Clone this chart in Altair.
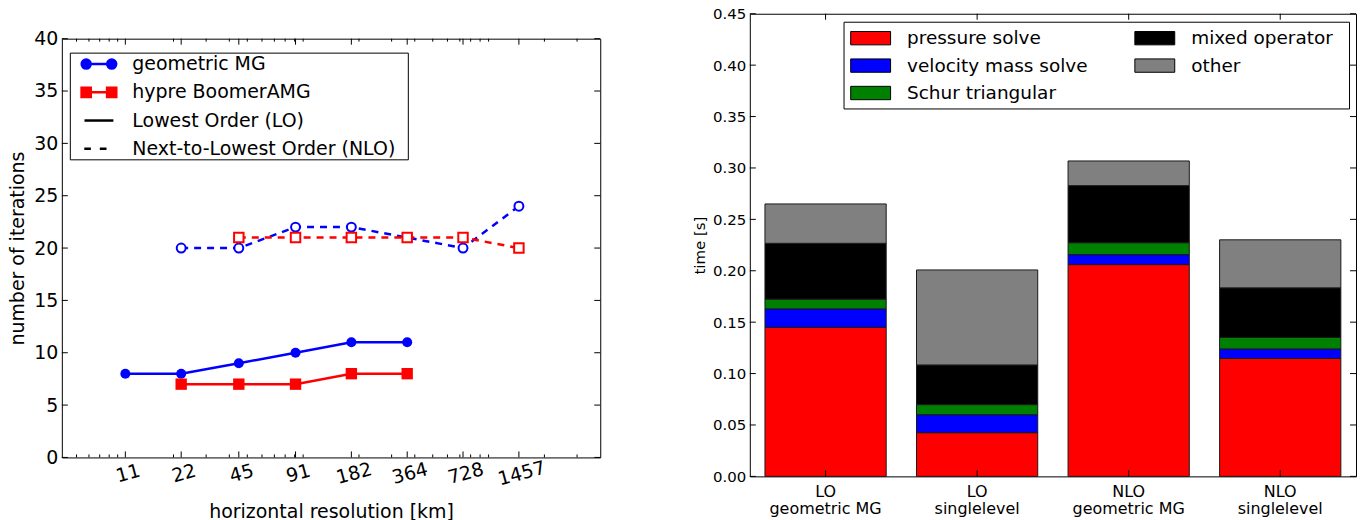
import json
import altair as alt
import pandas as pd

# ---------------- left panel data ----------------
res_geo_lo = [11, 22, 45, 91, 182, 364]
its_geo_lo = [8, 8, 9, 10, 11, 11]
res_amg_lo = [22, 45, 91, 182, 364]
its_amg_lo = [7, 7, 7, 8, 8]
res_geo_nlo = [22, 45, 91, 182, 364, 728, 1457]
its_geo_nlo = [20, 20, 22, 22, 21, 20, 24]
res_amg_nlo = [45, 91, 182, 364, 728, 1457]
its_amg_nlo = [21, 21, 21, 21, 21, 20]

res_ticks = [11, 22, 45, 91, 182, 364, 728, 1457]
res_minor = [6, 7, 8, 9, 10, 20, 30, 40, 50, 60, 70, 80, 90, 100, 200, 300,
             400, 500, 600, 700, 800, 900, 1000, 2000, 3000]
its_ticks = [0, 5, 10, 15, 20, 25, 30, 35, 40]
methods = ["geometric MG", "hypre BoomerAMG"]
orders = ["LO", "NLO"]
line_legend = ["geometric MG", "hypre BoomerAMG", "Lowest Order (LO)",
               "Next-to-Lowest Order (NLO)"]

# ---------------- right panel data ----------------
bar_groups = ["LO\ngeometric MG", "LO\nsinglelevel", "NLO\ngeometric MG", "NLO\nsinglelevel"]
components = ["pressure solve", "velocity mass solve", "Schur triangular",
              "mixed operator", "other"]
pressure_solve = [0.145, 0.0425, 0.206, 0.1147]
velocity_mass_solve = [0.018, 0.0175, 0.0097, 0.0093]
schur_triangular = [0.0094, 0.0098, 0.0116, 0.0112]
mixed_operator = [0.0543, 0.0386, 0.0555, 0.0482]
other = [0.0383, 0.0924, 0.024, 0.0467]
time_ticks = [0.0, 0.05, 0.10, 0.15, 0.20, 0.25, 0.30, 0.35, 0.40, 0.45]

FONT = "DejaVu Sans"
BLUE, RED, GREEN, GRAY, BLACK = "#0000ff", "#ff0000", "#008000", "#808080", "#000000"

# ---------------- left panel ----------------
rows = []
for m, o, rs, its in [(methods[0], orders[0], res_geo_lo, its_geo_lo),
                      (methods[1], orders[0], res_amg_lo, its_amg_lo),
                      (methods[0], orders[1], res_geo_nlo, its_geo_nlo),
                      (methods[1], orders[1], res_amg_nlo, its_amg_nlo)]:
    for r, i in zip(rs, its):
        rows.append({"res": r, "its": i, "method": m, "order": o})
df_lines = pd.DataFrame(rows)

W1, H1 = 540, 420
xs = alt.Scale(type="log", domain=[5, 4000])
ys = alt.Scale(domain=[0, 40])
x_axis = alt.Axis(values=res_ticks, format="d", labelAngle=345, labelAlign="center",
                  labelBaseline="top", labelFontSize=19, labelPadding=7,
                  labelOverlap=False, labelFlush=False,
                  title="horizontal resolution [km]", titleFontSize=19, titlePadding=14)
y_axis = alt.Axis(values=its_ticks, labelFontSize=19, labelPadding=4,
                  title="number of iterations", titleFontSize=19, titlePadding=6)


def XL(f):
    return alt.X(f, type="quantitative", scale=xs, axis=x_axis)


def YL(f):
    return alt.Y(f, type="quantitative", scale=ys, axis=y_axis)


base = alt.Chart(df_lines)
layers = []
styles = [
    (methods[0], orders[0], BLUE, False, "circle", 100),
    (methods[1], orders[0], RED, False, "square", 130),
    (methods[0], orders[1], BLUE, True, "circle", 80),
    (methods[1], orders[1], RED, True, "square", 90),
]
for m, o, col, nlo, shp, sz in styles:
    d = base.transform_filter((alt.datum.method == m) & (alt.datum.order == o))
    lkw = dict(color=col, strokeWidth=2.5)
    if nlo:
        lkw["strokeDash"] = [7, 6]
    layers.append(d.mark_line(**lkw).encode(x=XL("res"), y=YL("its")))
    if nlo:
        pkw = dict(shape=shp, filled=True, fill="white", stroke=col, strokeWidth=2,
                   size=sz, opacity=1)
    else:
        pkw = dict(shape=shp, filled=True, fill=col, strokeWidth=0, size=sz, opacity=1)
    layers.append(d.mark_point(**pkw).encode(x=XL("res"), y=YL("its")))

# inward ticks (matplotlib style)
ytk = alt.Chart(pd.DataFrame({"v": its_ticks}))
xtk = alt.Chart(pd.DataFrame({"v": res_ticks}))
xmn = alt.Chart(pd.DataFrame({"v": res_minor}))
rk = dict(color=BLACK, strokeWidth=1)
layers += [
    ytk.mark_rule(**rk).encode(y=YL("v"), x=alt.value(0), x2=alt.value(6)),
    ytk.mark_rule(**rk).encode(y=YL("v"), x=alt.value(W1 - 6), x2=alt.value(W1)),
    xtk.mark_rule(**rk).encode(x=XL("v"), y=alt.value(0), y2=alt.value(6)),
    xtk.mark_rule(**rk).encode(x=XL("v"), y=alt.value(H1 - 6), y2=alt.value(H1)),
    xmn.mark_rule(**rk).encode(x=XL("v"), y=alt.value(0), y2=alt.value(3)),
    xmn.mark_rule(**rk).encode(x=XL("v"), y=alt.value(H1 - 3), y2=alt.value(H1)),
]

# legend (built from a scale with explicit domain; no visible marks)
leg_colors = [BLUE, RED, BLACK, BLACK]
leg_paths = [
    "M-1.28,0L1.28,0M-0.83,0A0.45,0.45,0,1,1,-1.73,0A0.45,0.45,0,1,1,-0.83,0Z"
    "M1.73,0A0.45,0.45,0,1,1,0.83,0A0.45,0.45,0,1,1,1.73,0Z",
    "M-1.28,0L1.28,0M-1.74,-0.46L-0.82,-0.46L-0.82,0.46L-1.74,0.46Z"
    "M0.82,-0.46L1.74,-0.46L1.74,0.46L0.82,0.46Z",
    "M-1.45,0L1.45,0",
    # trailing lone move-to only widens the legend frame (draws nothing)
    "M-1.47,0L-0.81,0M0.09,0L0.76,0M30.4,0",
]
# legends are placed relative to the top-level origin
legend_l = alt.Legend(title=None, orient="none", legendX=8, legendY=39, padding=0,
                      rowPadding=6.3, strokeColor=BLACK, fillColor="white",
                      labelFontSize=19, labelFont=FONT, labelColor=BLACK, labelLimit=0,
                      symbolSize=400, symbolStrokeWidth=2.5, symbolOffset=17.7,
                      labelOffset=22, symbolOpacity=1, cornerRadius=0)
leg_df = pd.DataFrame({"entry": line_legend})
dummy = alt.Chart(leg_df).transform_filter("false").mark_point(
    filled=True, size=400, strokeWidth=2.5, opacity=1).encode(
    fill=alt.Fill("entry:N", scale=alt.Scale(domain=line_legend, range=leg_colors), legend=legend_l),
    stroke=alt.Stroke("entry:N", scale=alt.Scale(domain=line_legend, range=leg_colors), legend=legend_l),
    shape=alt.Shape("entry:N", scale=alt.Scale(domain=line_legend, range=leg_paths), legend=legend_l),
)
layers.append(dummy)

left_plot = alt.layer(*layers).properties(width=W1, height=H1)
spacer = alt.Chart(pd.DataFrame({"a": [0]})).mark_point(opacity=0).properties(
    width=W1, height=14, view=alt.ViewBackground(stroke="transparent"))
left = alt.vconcat(spacer, left_plot, spacing=0)

# ---------------- right panel ----------------
series = [pressure_solve, velocity_mass_solve, schur_triangular, mixed_operator, other]
brows = []
for gi, g in enumerate(bar_groups):
    for comp, vals in zip(components, series):
        brows.append({"group": g, "component": comp, "time": vals[gi]})
df_bars = pd.DataFrame(brows)

W2, H2 = 608, 464
xb = alt.Scale(domain=bar_groups, paddingInner=0.2, paddingOuter=0.1)
yb = alt.Scale(domain=[0, 0.45])
xb_axis = alt.Axis(title=None, labelAngle=0, labelFontSize=16, labelPadding=7,
                   labelLineHeight=17, labelExpr="split(datum.label, '\\n')")
yb_axis = alt.Axis(values=time_ticks, format=".2f", labelFontSize=15, labelPadding=4,
                   title="time [s]", titleFontSize=15, titlePadding=5)
comp_colors = [RED, BLUE, GREEN, BLACK, GRAY]
legend_r = alt.Legend(title=None, orient="none", legendX=784, legendY=8, columns=2,
                      columnPadding=45, padding=6, rowPadding=7.5, strokeColor=BLACK,
                      fillColor="white", labelFontSize=18.5, labelFont=FONT,
                      labelColor=BLACK, labelLimit=0,
                      symbolType="M-2,-0.67L2,-0.67L2,0.67L-2,0.67ZM18.65,0",
                      symbolSize=400, symbolStrokeColor=BLACK, symbolStrokeWidth=1,
                      symbolOffset=10.7, labelOffset=26, symbolOpacity=1, cornerRadius=0)

bars = alt.Chart(df_bars).transform_calculate(
    k="indexof(" + json.dumps(components) + ", datum.component)"
).mark_bar(stroke="#1a1a1a", strokeWidth=1).encode(
    x=alt.X("group:N", scale=xb, axis=xb_axis),
    y=alt.Y("time:Q", stack="zero", scale=yb, axis=yb_axis),
    order=alt.Order("k:Q", sort="ascending"),
    color=alt.Color("component:N", scale=alt.Scale(domain=components, range=comp_colors),
                    legend=legend_r),
)


def YB(f):
    return alt.Y(f, type="quantitative", scale=yb, axis=yb_axis)


def XB(f):
    return alt.X(f, type="nominal", scale=xb, axis=xb_axis)


ybt = alt.Chart(pd.DataFrame({"v": time_ticks}))
xbt = alt.Chart(pd.DataFrame({"group": bar_groups}))
right = alt.layer(
    bars,
    ybt.mark_rule(**rk).encode(y=YB("v"), x=alt.value(0), x2=alt.value(6)),
    ybt.mark_rule(**rk).encode(y=YB("v"), x=alt.value(W2 - 6), x2=alt.value(W2)),
    xbt.mark_rule(**rk).encode(x=XB("group"), y=alt.value(0), y2=alt.value(6)),
    xbt.mark_rule(**rk).encode(x=XB("group"), y=alt.value(H2 - 6), y2=alt.value(H2)),
).properties(width=W2, height=H2)

chart = alt.hconcat(left, right, spacing=91).properties(
    padding={"left": 0, "top": -3, "right": 0, "bottom": 0}
).configure(font=FONT).configure_view(stroke=BLACK, strokeWidth=1).configure_axis(
    grid=False, domain=False, ticks=False, tickSize=0, labelColor=BLACK,
    titleColor=BLACK, titleFontWeight="normal", labelFont=FONT, titleFont=FONT
)

chart.save("out.html", embed_options={"renderer": "svg", "actions": False})
